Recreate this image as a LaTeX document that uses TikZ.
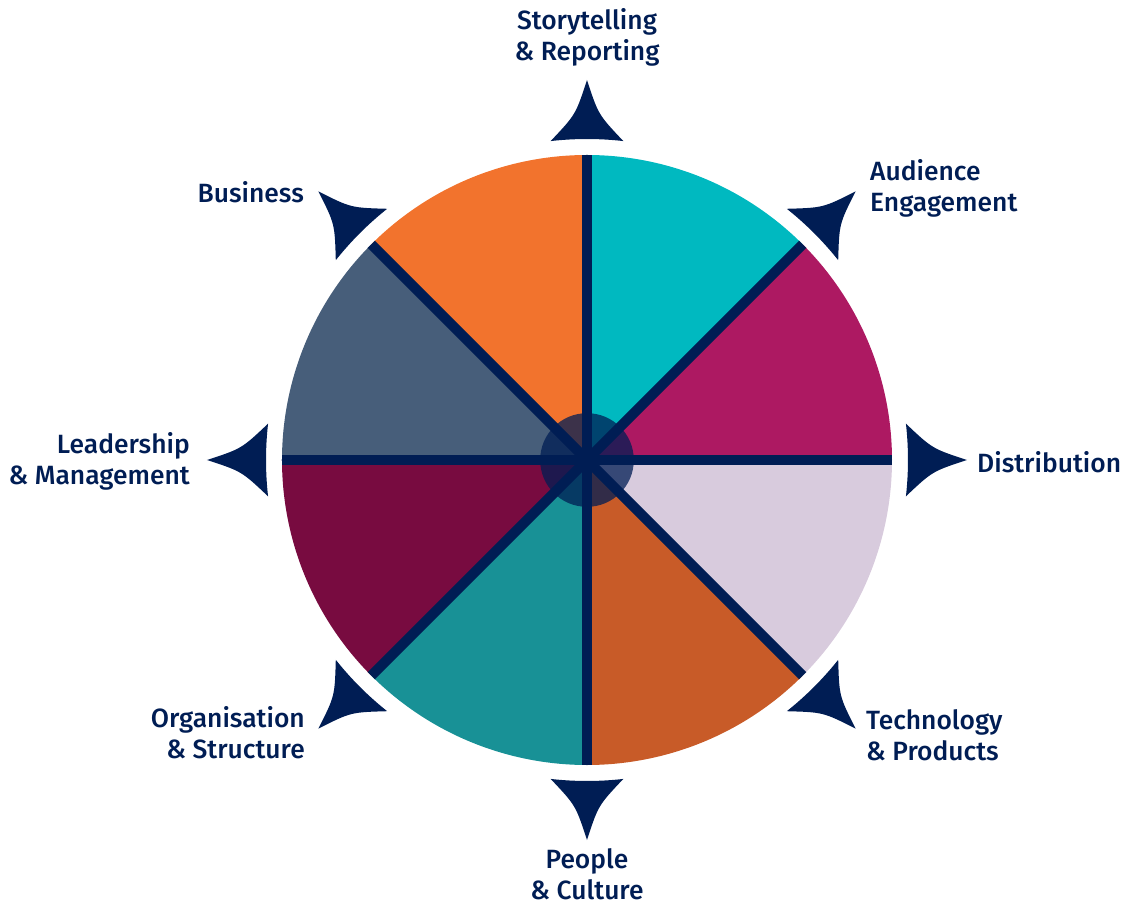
\documentclass[tikz,border=0pt]{standalone}
\usepackage{fontspec}
\setmainfont{Fira Sans}[UprightFont=* Medium]
\usetikzlibrary{positioning}
\definecolor{CompNavy}{RGB}{0,29,84}
\definecolor{CompTeal}{RGB}{0,185,192}
\definecolor{CompMagenta}{RGB}{173,25,98}
\definecolor{CompLilac}{RGB}{216,203,221}
\definecolor{CompRust}{RGB}{200,91,40}
\definecolor{CompSea}{RGB}{24,145,150}
\definecolor{CompWine}{RGB}{120,11,64}
\definecolor{CompSlate}{RGB}{71,94,122}
\definecolor{CompOrange}{RGB}{242,115,45}
\tikzset{
  comp label/.style={font=\fontsize{26.5}{31}\selectfont, text=CompNavy, inner sep=0pt},
  comp spoke/.style={line width=10, CompNavy},
  comp hub/.style={circle, fill=CompNavy, fill opacity=0.75, minimum size=94, inner sep=0pt},
  comp arrow/.style={fill=CompNavy}
}

\begin{document}
\begin{tikzpicture}[x=1bp, y=1bp]
\useasboundingbox (-587,-446) rectangle (539,460);
% wheel
\foreach \a/\c in {0/CompMagenta, 45/CompTeal, 90/CompOrange, 135/CompSlate, 180/CompWine, 225/CompSea, 270/CompRust, 315/CompLilac}
  \fill[\c] (0,0) -- (\a:305) arc[start angle=\a, end angle=\a+45, radius=305] -- cycle;
\begin{scope}
\clip (0,0) circle[radius=305];
\foreach \a in {0,45,90,135}
  \draw[comp spoke] (180+\a:310) -- (\a:310);
\end{scope}
\node[comp hub] (hub) at (0,0) {};
% arrowheads
\foreach \a in {0,45,...,315}
  \fill[comp arrow, rotate=\a] (-6.5:321) arc[start angle=-6.5, end angle=6.5, radius=321]
    .. controls (345.4,11.3) .. (380,0) .. controls (345.4,-11.3) .. (-6.5:321) -- cycle;
% labels
\node[comp label, align=center] (story) at (0,423) {Storytelling\\\& Reporting};
\node[comp label, align=left, anchor=west] (audience) at (283,272) {Audience\\Engagement};
\node[comp label, anchor=west] (distrib) at (390,-2) {Distribution};
\node[comp label, align=left, anchor=west] (tech) at (279,-275) {Technology\\\& Products};
\node[comp label, align=center] (people) at (0,-414) {People\\\& Culture};
\node[comp label, align=right, anchor=east] (org) at (-282,-273) {Organisation\\\& Structure};
\node[comp label, align=right, anchor=east] (lead) at (-397,-1) {Leadership\\\& Management};
\node[comp label, anchor=east] (business) at (-283,268) {Business};
\end{tikzpicture}
\end{document}
